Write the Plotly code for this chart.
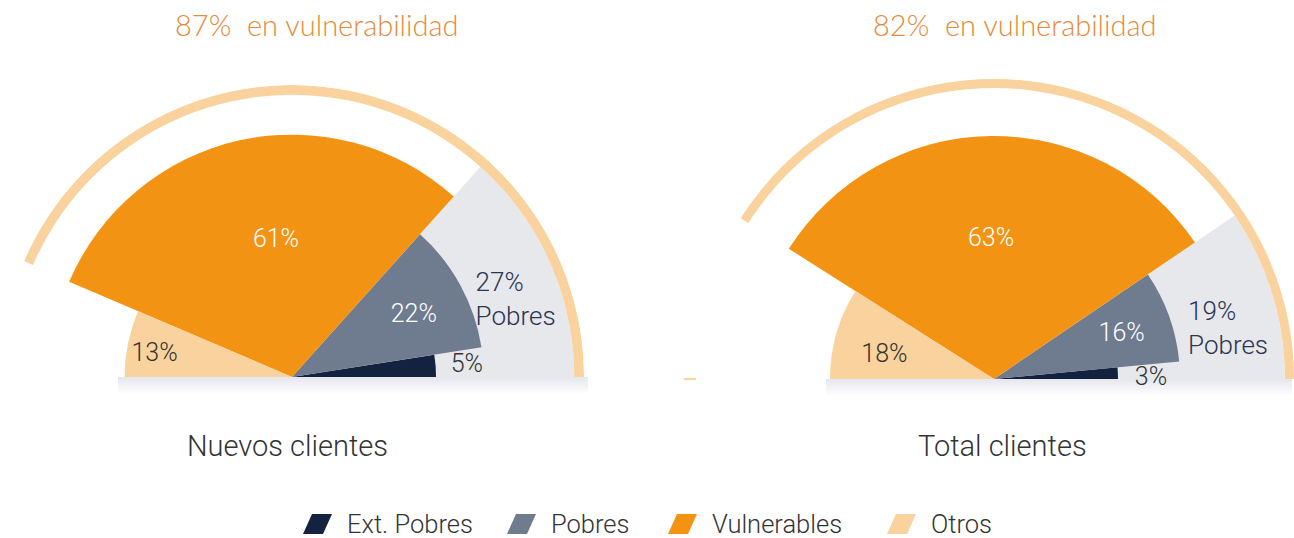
import plotly.graph_objects as go

W, H = 1294, 538

# ---------------- data ----------------
categories = ["Ext. Pobres", "Pobres", "Vulnerables", "Otros"]
charts = ["Nuevos clientes", "Total clientes"]
nuevos_values = [5, 22, 61, 13]
total_values = [3, 16, 63, 18]
nuevos_pobres_total = 27
total_pobres_total = 19
nuevos_vulnerabilidad = 87
total_vulnerabilidad = 82

# ---------------- style ----------------
colors = ["#13223F", "#6F7B8F", "#F39313", "#F9D29D"]
bg_gray = "#E6E8EC"
arc_color = "#F9D29D"
title_color = "#E48A3A"
text_dark = "#333333"
navy_text = "#2B3550"
FONT = "Roboto"

# radii (radial units ~ pixels) per sector
nuevos_radii = [148, 197, 249, 172]
total_radii = [124, 186, 243, 164]
nuevos_bg_r = 290
total_bg_r = 291
nuevos_arc = (290, 10)
total_arc = (291, 10)

# label placement (theta deg, r)
nuevos_label_pos = [(3.6, 180), (26.6, 140), (96.7, 141), (171, 143)]
total_label_pos = [(0.0, 157), (19.0, 135), (91.2, 139), (168, 112)]
nuevos_pob_label = (22.4, 204)
total_pob_label = (14.0, 200)
label_colors = [text_dark, "white", "white", text_dark]

# polar placement (pixels): center, pixel radius, radial range max
left_c, right_c = (292, 377), (994, 379)
left_R, right_R = 292, 300
left_max, right_max = 300, 300

fig = go.Figure()


def add_chart(pid, values, pob_total, vuln, radii, bg_r, arc, label_pos, pob_pos):
    total = sum(values)
    k = 180.0 / total
    bgw = pob_total * k
    fig.add_trace(go.Barpolar(r=[bg_r], theta=[bgw / 2], width=[bgw],
                              marker=dict(color=bg_gray, line=dict(width=0)),
                              showlegend=False, hoverinfo="skip", subplot=pid))
    start = 0.0
    for i, (cat, v) in enumerate(zip(categories, values)):
        w = v * k
        fig.add_trace(go.Barpolar(r=[radii[i]], theta=[start + w / 2], width=[w],
                                  name=cat, marker=dict(color=colors[i], line=dict(width=0)),
                                  showlegend=False, subplot=pid))
        start += w
    aw = vuln * 1.8
    fig.add_trace(go.Barpolar(r=[arc[1]], base=[arc[0]], theta=[aw / 2], width=[aw],
                              marker=dict(color=arc_color, line=dict(width=0)),
                              showlegend=False, hoverinfo="skip", subplot=pid))
    fig.add_trace(go.Scatterpolar(
        r=[p[1] for p in label_pos], theta=[p[0] for p in label_pos],
        text=[f"{v}%" for v in values], mode="text", cliponaxis=False,
        textfont=dict(family=FONT, size=25, color=label_colors, weight=300),
        showlegend=False, hoverinfo="skip", subplot=pid))
    fig.add_trace(go.Scatterpolar(
        r=[pob_pos[1]], theta=[pob_pos[0]], text=[f"{pob_total}%<br>Pobres"],
        mode="text", textposition="middle right", cliponaxis=False,
        textfont=dict(family=FONT, size=26, color=navy_text, weight=300),
        showlegend=False, hoverinfo="skip", subplot=pid))


add_chart("polar", nuevos_values, nuevos_pobres_total, nuevos_vulnerabilidad,
          nuevos_radii, nuevos_bg_r, nuevos_arc, nuevos_label_pos, nuevos_pob_label)
add_chart("polar2", total_values, total_pobres_total, total_vulnerabilidad,
          total_radii, total_bg_r, total_arc, total_label_pos, total_pob_label)


def polar_layout(c, R, rmax):
    cx, cy = c
    yb = H - cy
    return dict(
        domain=dict(x=[max(0.0, (cx - R) / W), min(1.0, (cx + R) / W)], y=[yb / H, (yb + R) / H]),
        sector=[0, 180], bgcolor="rgba(0,0,0,0)", bargap=0,
        radialaxis=dict(range=[0, rmax], visible=False, showgrid=False, showline=False,
                        showticklabels=False, ticks=""),
        angularaxis=dict(visible=False, showgrid=False, showline=False,
                         showticklabels=False, ticks="", rotation=0, direction="counterclockwise"),
    )


shapes = []
# soft shadow below baseline
for c, x0, x1 in [(left_c, 118, 588), (right_c, 826, 1292)]:
    for j in range(8):
        shapes.append(dict(type="rect", xref="paper", yref="paper",
                           x0=x0 / W, x1=x1 / W,
                           y0=(H - c[1] - 2 - j * 2) / H, y1=(H - c[1]) / H,
                           fillcolor="rgba(120,120,130,0.02)", line=dict(width=0), layer="below"))
# small stray tick at right chart
shapes.append(dict(type="line", xref="paper", yref="paper", x0=684 / W, x1=696 / W,
                   y0=(H - 379) / H, y1=(H - 379) / H, line=dict(color=arc_color, width=2)))

annotations = []
for cx, txt in [(316, f"{nuevos_vulnerabilidad}%  en vulnerabilidad"),
                (1014, f"{total_vulnerabilidad}%  en vulnerabilidad")]:
    annotations.append(dict(x=cx / W, y=(H - 25) / H, xref="paper", yref="paper",
                            text=txt, showarrow=False, xanchor="center", yanchor="middle",
                            font=dict(family="Lato", size=29, color=title_color, weight=300)))
for cx, txt in [(287, charts[0]), (1002, charts[1])]:
    annotations.append(dict(x=cx / W, y=(H - 446) / H, xref="paper", yref="paper",
                            text=txt, showarrow=False, xanchor="center", yanchor="middle",
                            font=dict(family=FONT, size=29, color=text_dark, weight=300)))

# custom legend with parallelogram icons
legend_x = [303, 507, 668, 887]
ly = 524
for x, cat, col in zip(legend_x, categories, colors):
    x0 = x
    path = (f"M {(x0+9)/W},{(H-ly-10)/H} L {(x0+29)/W},{(H-ly-10)/H} "
            f"L {(x0+20)/W},{(H-ly+10)/H} L {x0/W},{(H-ly+10)/H} Z")
    path = (f"M {x0/W},{(H-ly-10)/H} L {(x0+20)/W},{(H-ly-10)/H} "
            f"L {(x0+29)/W},{(H-ly+10)/H} L {(x0+9)/W},{(H-ly+10)/H} Z")
    shapes.append(dict(type="path", xref="paper", yref="paper", path=path,
                       fillcolor=col, line=dict(width=0)))
    annotations.append(dict(x=(x0 + 42) / W, y=(H - ly) / H, xref="paper", yref="paper",
                            text=cat, showarrow=False, xanchor="left", yanchor="middle",
                            font=dict(family=FONT, size=25.5, color=text_dark, weight=300)))

fig.update_layout(
    width=W, height=H, margin=dict(l=0, r=0, t=0, b=0),
    paper_bgcolor="white", plot_bgcolor="white", showlegend=False,
    polar=polar_layout(left_c, left_R, left_max), polar2=polar_layout(right_c, right_R, right_max),
    shapes=shapes, annotations=annotations,
)

fig.write_html("out.html", config={"displayModeBar": False},
               post_script="document.body.style.margin='0';")
